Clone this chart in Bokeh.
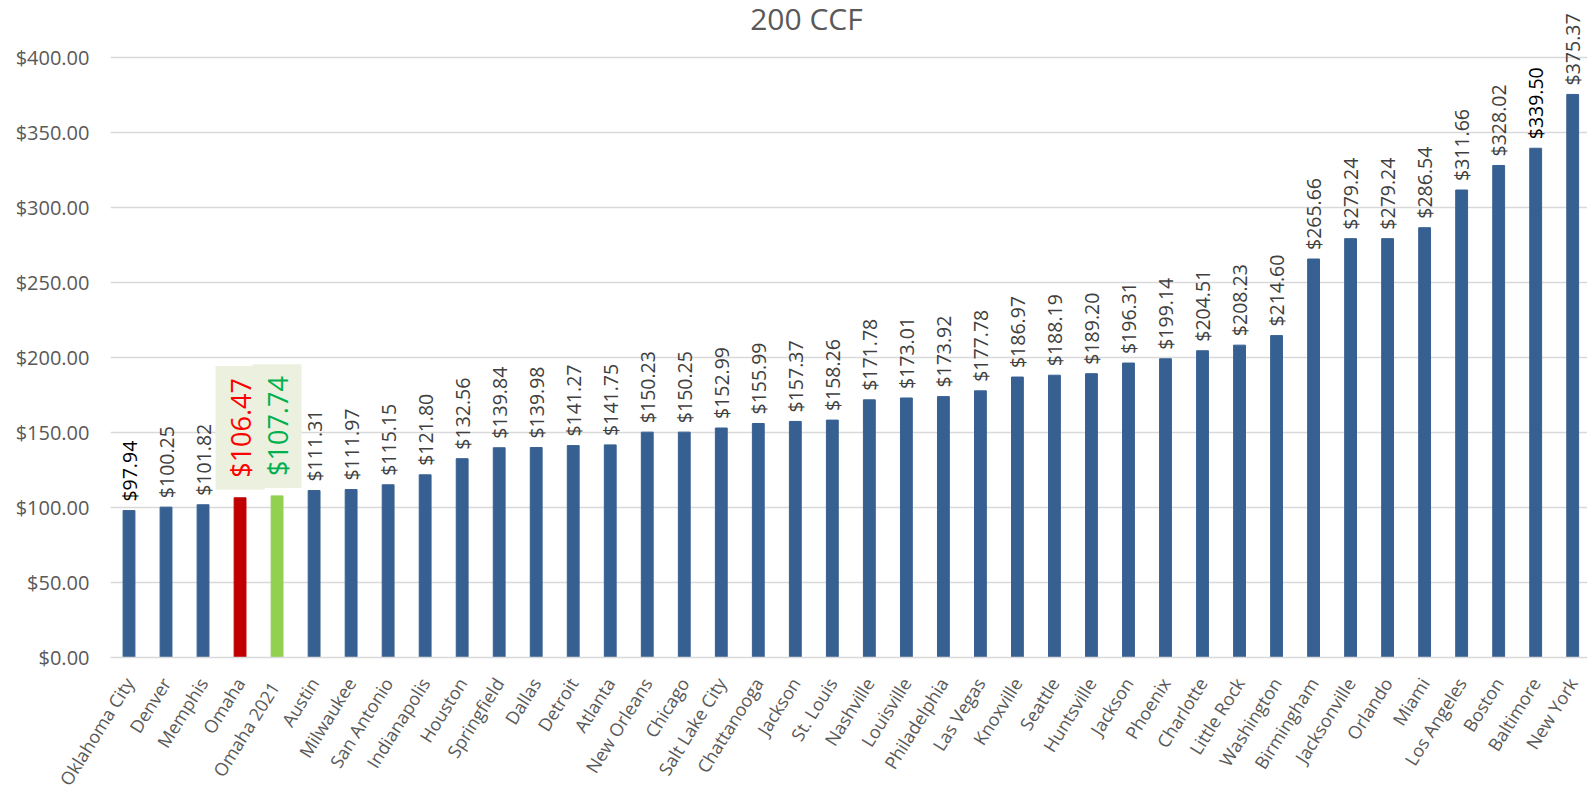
import math
from bokeh.plotting import figure
from bokeh.models import (ColumnDataSource, FixedTicker, NumeralTickFormatter,
                          Range1d, Label)
from bokeh.core.properties import value
from bokeh.embed import file_html
from bokeh.resources import INLINE

cities = ["Oklahoma City", "Denver", "Memphis", "Omaha", "Omaha  2021", "Austin",
          "Milwaukee", "San Antonio", "Indianapolis", "Houston", "Springfield",
          "Dallas", "Detroit", "Atlanta", "New Orleans", "Chicago", "Salt Lake City",
          "Chattanooga", "Jackson", "St. Louis", "Nashville", "Louisville",
          "Philadelphia", "Las Vegas", "Knoxville", "Seattle", "Huntsville",
          "Jackson", "Phoenix", "Charlotte", "Little Rock", "Washington",
          "Birmingham", "Jacksonville", "Orlando", "Miami", "Los Angeles",
          "Boston", "Baltimore", "New York"]
costs = [97.94, 100.25, 101.82, 106.47, 107.74, 111.31, 111.97, 115.15, 121.80,
         132.56, 139.84, 139.98, 141.27, 141.75, 150.23, 150.25, 152.99, 155.99,
         157.37, 158.26, 171.78, 173.01, 173.92, 177.78, 186.97, 188.19, 189.20,
         196.31, 199.14, 204.51, 208.23, 214.60, 265.66, 279.24, 279.24, 286.54,
         311.66, 328.02, 339.50, 375.37]
highlight = {3: ("#C00000", "#FF0000"), 4: ("#92D050", "#00B050")}
black_labels = {0, 38}
title_text = "200 CCF"
y_ticks = [0, 50, 100, 150, 200, 250, 300, 350, 400]

BLUE = "#376092"
GREY = "#595959"
FONT = "Open Sans"

xs = list(range(len(cities)))
bar_colors = [highlight[i][0] if i in highlight else BLUE for i in xs]

bars = ColumnDataSource(dict(x=xs, v=costs, c=bar_colors))

norm_idx = [i for i in xs if i not in highlight]
norm = ColumnDataSource(dict(
    x=[xs[i] for i in norm_idx],
    v=[costs[i] for i in norm_idx],
    t=[f"${costs[i]:.2f}" for i in norm_idx],
    c=["#000000" if i in black_labels else "#404040" for i in norm_idx],
))
hi_idx = sorted(highlight)
hi = ColumnDataSource(dict(
    x=[xs[i] for i in hi_idx],
    v=[costs[i] for i in hi_idx],
    t=[f"${costs[i]:.2f}" for i in hi_idx],
    c=[highlight[i][1] for i in hi_idx],
))

p = figure(width=1587, height=799, output_backend="svg", toolbar_location=None,
           x_range=Range1d(-0.5, 39.4), y_range=Range1d(0, 438),
           min_border_left=110, min_border_right=0, min_border_top=0,
           min_border_bottom=142, background_fill_color="white",
           border_fill_color="white", outline_line_color=None)

p.vbar(x="x", top="v", width=0.32, color="c", source=bars)

p.text(x="x", y="v", text="t", source=norm, angle=math.pi / 2, y_offset=-9,
       text_align="left", text_baseline="middle", text_color="c",
       text_font=value(FONT), text_font_size="19.5px")
p.text(x="x", y="v", text="t", source=hi, angle=math.pi / 2, y_offset=-8,
       text_align="left", text_baseline="middle", text_color="c",
       text_font=value(FONT), text_font_size="27px",
       background_fill_color="#EBF1DE", padding=(12, 6))

p.add_layout(Label(x=18.3, y=426, text=title_text, text_align="center",
                   text_baseline="alphabetic", text_font=FONT,
                   text_font_size="30px", text_color=GREY))

p.yaxis.ticker = FixedTicker(ticks=y_ticks)
p.yaxis.formatter = NumeralTickFormatter(format="$0.00")
p.yaxis.axis_line_color = None
p.yaxis.major_tick_line_color = None
p.yaxis.minor_tick_line_color = None
p.yaxis.major_label_standoff = 15
p.yaxis.major_label_text_font = FONT
p.yaxis.major_label_text_font_size = "20px"
p.yaxis.major_label_text_color = GREY

p.xaxis.ticker = FixedTicker(ticks=xs, minor_ticks=[])
p.xaxis.major_label_overrides = {i: n for i, n in zip(xs, cities)}
p.xaxis.major_label_orientation = math.radians(58)
p.xaxis.axis_line_color = "#D9D9D9"
p.xaxis.axis_line_width = 1.5
p.xaxis.major_tick_line_color = None
p.xaxis.minor_tick_line_color = None
p.xaxis.major_label_standoff = 16
p.xaxis.major_label_text_font = FONT
p.xaxis.major_label_text_font_size = "18px"
p.xaxis.major_label_text_color = GREY

p.xgrid.visible = False
p.ygrid.ticker = FixedTicker(ticks=y_ticks)
p.ygrid.grid_line_color = "#D9D9D9"
p.ygrid.grid_line_width = 1.5

open("out.html", "w").write(file_html(p, INLINE))
